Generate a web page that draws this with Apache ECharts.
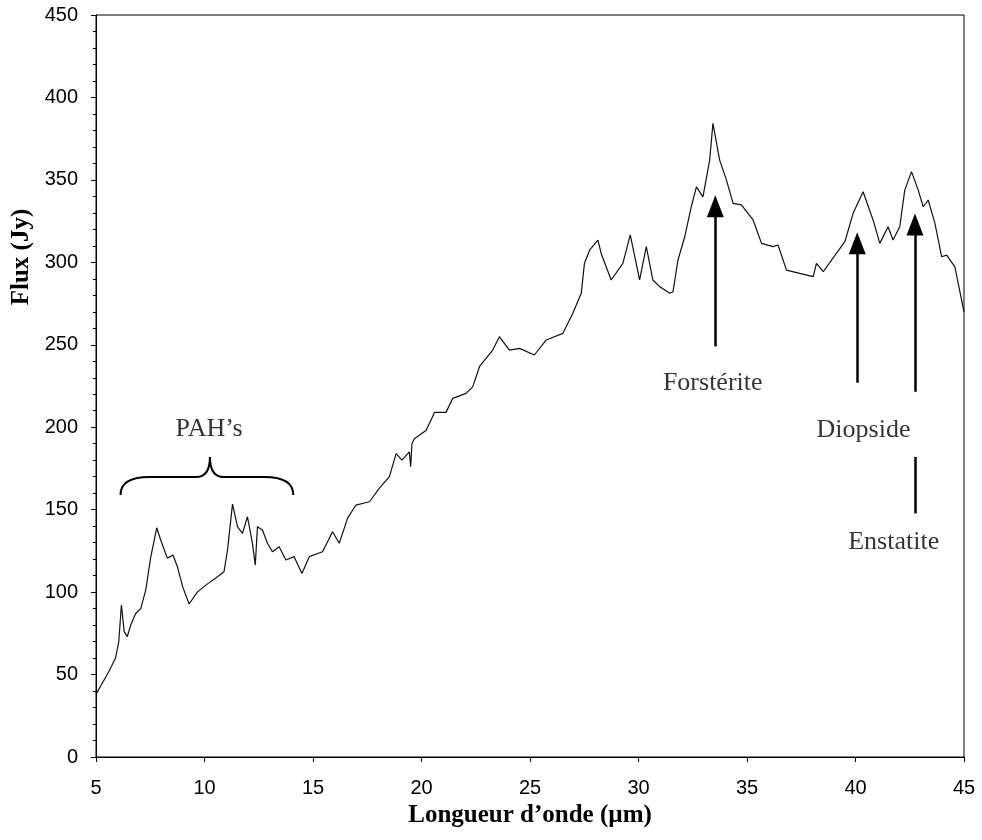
<!DOCTYPE html>
<html>
<head>
<meta charset="utf-8">
<script src="https://cdn.jsdelivr.net/npm/echarts@6/dist/echarts.min.js"></script>
<style>html,body{margin:0;padding:0;background:#fff}#c{width:982px;height:840px}</style>
</head>
<body>
<div id="c"></div>
<script>
// Wavelength (µm) and flux (Jy)
const wavelength = [5.0,5.3,5.6,5.9,6.05,6.17,6.3,6.44,6.6,6.83,7.06,7.29,7.52,7.8,7.98,8.29,8.55,8.75,9.0,9.29,9.67,10.14,10.52,10.9,11.06,11.29,11.52,11.75,11.98,12.21,12.34,12.44,12.67,12.9,13.13,13.44,13.75,14.13,14.49,14.83,15.44,15.9,16.21,16.6,16.98,17.6,18.06,18.52,18.83,19.1,19.44,19.5,19.56,19.67,20.21,20.6,21.13,21.44,22.05,22.36,22.67,23.28,23.59,24.05,24.52,25.2,25.75,26.51,26.97,27.36,27.51,27.75,28.13,28.28,28.74,29.28,29.62,30.05,30.36,30.66,31.0,31.44,31.59,31.82,32.13,32.43,32.67,32.97,33.28,33.43,33.74,34.05,34.36,34.74,35.28,35.67,36.2,36.43,36.82,37.43,38.05,38.2,38.51,39.12,39.51,39.89,40.35,40.81,41.12,41.5,41.73,42.04,42.27,42.58,42.89,43.12,43.35,43.66,43.97,44.2,44.58,44.89,45.0];
const flux = [38,45,52,60,70,92.2,76,73,80,87,90,101,121,139,131.6,120.6,122.5,115.4,103,92.8,100,105,108.5,112.4,125.5,153.4,139.7,135.6,145.7,129.6,116.4,139.7,137.7,129.6,124.5,127.5,119.5,121.5,111.3,121.5,124.5,136.6,129.6,145,152.8,154.8,163,170,184,180,185,176,190,193,198,209,209,217.5,220.5,224.5,236.7,246.8,254.9,246.8,247.8,243.8,252.9,256.9,269,281.2,299.4,307.5,313.5,305.4,289.3,299.4,316.6,289.3,309.5,289.3,285,281.2,282.2,301.4,315.5,333.7,345.8,339.7,362,384.3,362,350,335.8,334.8,325.7,311.5,309.5,310.5,295.3,293.3,291.3,299.4,294.3,305.4,312.5,329.7,342.8,325.7,311.5,321.6,313.5,321.6,343.8,355,343.8,333.7,337.8,323.6,303.4,304.4,297.3,277.1,270];

const xTicks = [5,10,15,20,25,30,35,40,45];
const yTicks = [0,50,100,150,200,250,300,350,400,450];

// Annotation arrows: [x, tail flux, head flux]
const arrowX = [33.54, 40.08, 42.74];
const arrowTail = [249, 227, 221.5];
const arrowHead = [334, 311.5, 323];
// Extra bar between "Diopside" and "Enstatite": [x, y1, y2]
const extraBar = [42.74, 182, 147.7];

// Labels
const labelNames = ["PAH\u2019s", "Forstérite", "Diopside", "Enstatite"];
const labelX = [10.21, 33.42, 40.37, 41.76];
const labelY = [199, 227, 198.5, 130];

// PAH brace: left end, top level, peak, right end
const braceX = [6.13, 10.25, 14.09];
const braceY = [158.9, 169.8, 182];

const chart = echarts.init(document.getElementById('c'));

const arrowLines = arrowX.map((x, i) => [
  {coord: [x, arrowTail[i]], symbol: 'none'},
  {coord: [x, arrowHead[i]], symbol: 'triangle'}
]);
arrowLines.push([
  {coord: [extraBar[0], extraBar[1]], symbol: 'none'},
  {coord: [extraBar[0], extraBar[2]], symbol: 'none'}
]);

chart.setOption({
  animation: false,
  backgroundColor: '#fff',
  grid: {left: 96, right: 18, top: 15, bottom: 83, show: true, borderColor: '#000', borderWidth: 1},
  xAxis: {
    type: 'value', min: 5, max: 45, interval: 5,
    name: 'Longueur d\u2019onde (\u00b5m)', nameLocation: 'middle', nameGap: 44,
    nameTextStyle: {fontFamily: 'Liberation Serif', fontWeight: 'bold', fontSize: 25, color: '#000'},
    axisLine: {lineStyle: {color: '#000', width: 1}},
    axisTick: {show: true, length: 5, lineStyle: {color: '#000'}},
    axisLabel: {fontFamily: 'Liberation Sans', fontSize: 20, color: '#000', margin: 21,
      formatter: v => xTicks.includes(v) ? String(v) : ''},
    splitLine: {show: false}
  },
  yAxis: {
    type: 'value', min: 0, max: 450, interval: 50,
    axisLine: {show: true, lineStyle: {color: '#000', width: 1}},
    axisTick: {show: true, length: 5, lineStyle: {color: '#000'}},
    minorTick: {show: true, splitNumber: 5, length: 3, lineStyle: {color: '#000'}},
    axisLabel: {fontFamily: 'Liberation Sans', fontSize: 20, color: '#000', margin: 18,
      formatter: v => yTicks.includes(v) ? String(v) : ''},
    splitLine: {show: false}
  },
  graphic: [{
    type: 'text', x: 22, y: 257, rotation: Math.PI / 2,
    style: {text: 'Flux (Jy)', font: 'bold 25px "Liberation Serif"', fill: '#000',
      align: 'center', verticalAlign: 'middle'}
  }],
  series: [
    {
      type: 'line', data: wavelength.map((w, i) => [w, flux[i]]),
      showSymbol: false, symbol: 'none',
      lineStyle: {color: '#111', width: 1.2},
      markLine: {
        silent: true, symbolSize: [17, 22],
        lineStyle: {color: '#000', width: 2.5, type: 'solid'},
        label: {show: false},
        data: arrowLines
      },
      z: 3
    },
    {
      type: 'scatter', symbolSize: 0,
      data: labelNames.map((n, i) => ({name: n, value: [labelX[i], labelY[i]]})),
      label: {show: true, position: 'inside', formatter: p => p.name,
        fontFamily: 'Liberation Serif', fontSize: 26, color: '#000'},
      z: 4
    },
    {
      type: 'custom',
      data: [[braceX[0], braceY[0]]],
      renderItem: (params, api) => {
        const L = api.coord([braceX[0], braceY[0]]);
        const T = api.coord([braceX[0], braceY[1]]);
        const P = api.coord([braceX[1], braceY[2]]);
        const R = api.coord([braceX[2], braceY[0]]);
        const top = T[1];
        const r = (L[1] - top);
        const path = `M${L[0]},${L[1]} Q${L[0]},${top} ${L[0] + r * 1.6},${top} ` +
          `L${P[0] - 14},${top} Q${P[0]},${top} ${P[0]},${P[1]} ` +
          `Q${P[0]},${top} ${P[0] + 14},${top} L${R[0] - r * 1.6},${top} Q${R[0]},${top} ${R[0]},${R[1]}`;
        return {type: 'path', shape: {pathData: path},
          style: {stroke: '#000', lineWidth: 2, fill: 'none'}};
      },
      z: 4
    }
  ]
});
</script>
</body>
</html>
